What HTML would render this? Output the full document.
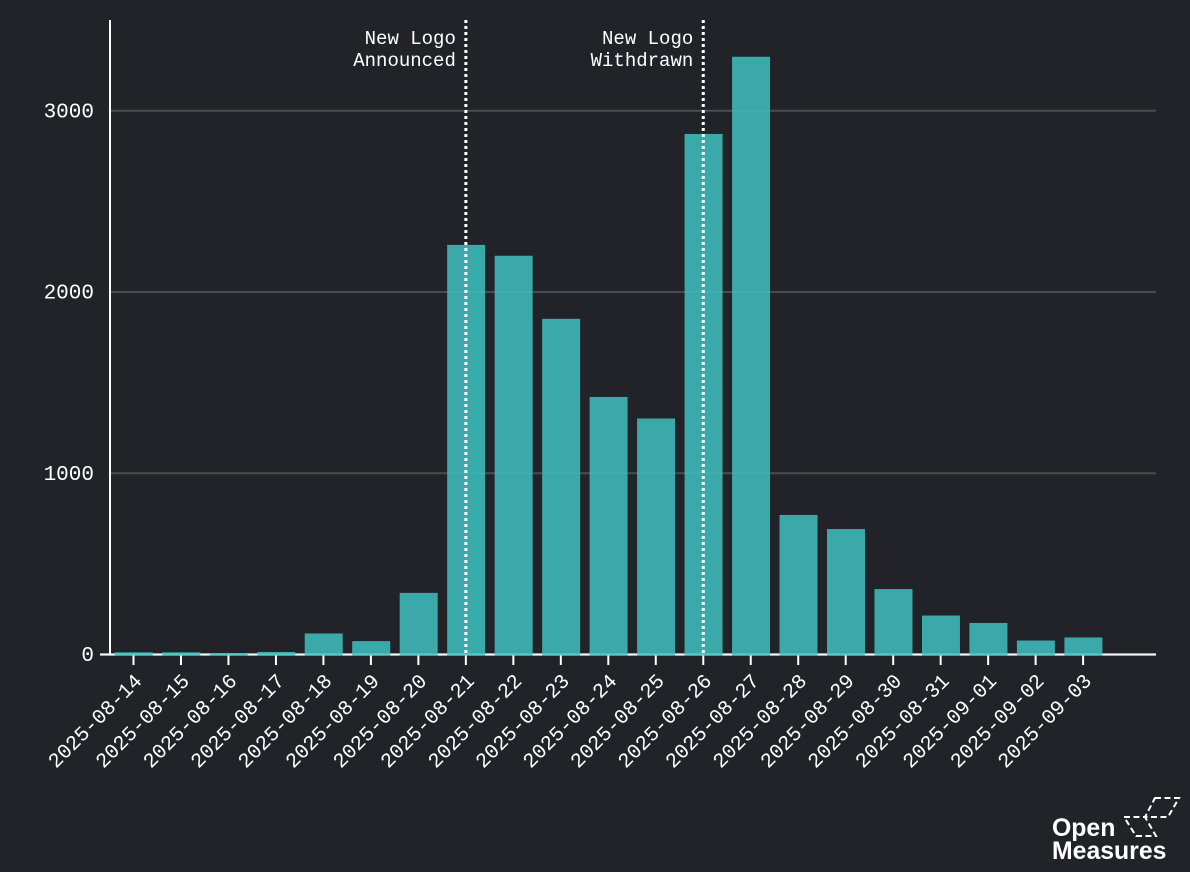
<!DOCTYPE html>
<html lang="en">
<head>
<meta charset="utf-8">
<title>Daily post counts</title>
<style>
html,body{margin:0;padding:0;background:#222329;}
body{width:1190px;height:872px;overflow:hidden;}
svg{display:block;}
text{font-family:"Liberation Mono","DejaVu Sans Mono",monospace;fill:#fff;}
</style>
</head>
<body>
<svg id="chart" width="1190" height="872" viewBox="0 0 1190 872" xmlns="http://www.w3.org/2000/svg">
<rect width="1190" height="872" fill="#222329"/>
<g id="grid"></g>
<g id="axes"></g>
<g id="bars"></g>
<g id="events"></g>
<g id="logo">
  <text x="1052" y="836" style="font-family:'Liberation Sans',sans-serif;font-weight:700;font-size:24.8px">Open</text>
  <text x="1052" y="859" style="font-family:'Liberation Sans',sans-serif;font-weight:700;font-size:24.8px">Measures</text>
  <g fill="none" stroke="#fff" stroke-width="2" stroke-dasharray="6 3.5">
    <path d="M1155 798 L1179 798 L1168 817 L1145 817 Z"/>
    <path d="M1124 817 L1145 817 L1156 836 L1136 836 Z"/>
  </g>
</g>
</svg>
<script>
const categories = ["2025-08-14","2025-08-15","2025-08-16","2025-08-17","2025-08-18","2025-08-19","2025-08-20","2025-08-21","2025-08-22","2025-08-23","2025-08-24","2025-08-25","2025-08-26","2025-08-27","2025-08-28","2025-08-29","2025-08-30","2025-08-31","2025-09-01","2025-09-02","2025-09-03"];
const seriesValues = [12,12,8,14,116,74,340,2260,2200,1852,1421,1302,2872,3298,770,692,361,215,174,77,94];
const yTicks = [0,1000,2000,3000];
const eventDates = ["2025-08-21","2025-08-26"];
const eventLine1 = ["New Logo","New Logo"];
const eventLine2 = ["Announced","Withdrawn"];

const NS = "http://www.w3.org/2000/svg";
const xStart = 133.5, xStep = 47.48, barWidth = 38;
const yZero = 654.5, yPerUnit = 0.18125;
function xScale(i){ return xStart + i * xStep; }
function yScale(v){ return yZero - v * yPerUnit; }
function make(tag, attrs, parent, txt){
  const el = document.createElementNS(NS, tag);
  for (const k in attrs) el.setAttribute(k, attrs[k]);
  if (txt !== undefined) el.textContent = txt;
  parent.appendChild(el);
  return el;
}
const gridG = document.getElementById("grid");
const axesG = document.getElementById("axes");
const barsG = document.getElementById("bars");
const eventsG = document.getElementById("events");

yTicks.forEach(function(t){
  if (t > 0) {
    const g = make("line", {x1:110,x2:1156,y1:yScale(t),y2:yScale(t),stroke:"#4b4c4f","stroke-width":2}, gridG);
    
    
  }
  const lab = make("text", {x:94,y:yScale(t)+6.5,"text-anchor":"end","font-size":"21px"}, axesG, String(t));
  
  
});

const yAxis = make("line", {x1:110,x2:110,y1:20,y2:655.5,stroke:"#fff","stroke-width":2}, axesG);


const xAxis = make("line", {x1:100,x2:1156,y1:yZero,y2:yZero,stroke:"#f4f4f4","stroke-width":2.2}, axesG);



categories.forEach(function(c,i){
  const x = xScale(i);
  const tick = make("line", {x1:x,x2:x,y1:yZero,y2:665,stroke:"#fff","stroke-width":2}, axesG);
  
  
  const lab = make("text", {
    x:x+9.5,y:682,"text-anchor":"end","font-size":"20.5px",
    transform:"rotate(-45 "+(x+9.5)+" 682)"
  }, axesG, c);
  
  

  const v = seriesValues[i];
  const bar = make("rect", {
    x:x-barWidth/2+0.3,y:yScale(v),width:barWidth,height:yZero-yScale(v)+1,
    fill:"#40c0c0","fill-opacity":0.85
  }, barsG);
  
  
});

eventDates.forEach(function(d,i){
  const x = xScale(categories.indexOf(d));
  const ln = make("line", {x1:x,x2:x,y1:20,y2:654,stroke:"#fff","stroke-width":3,"stroke-dasharray":"3 3"}, eventsG);
  
  
  const t1 = make("text", {x:x-10,y:44,"text-anchor":"end","font-size":"19px"}, eventsG, eventLine1[i]);
  
  
  const t2 = make("text", {x:x-10,y:66,"text-anchor":"end","font-size":"19px"}, eventsG, eventLine2[i]);
  
  
});
</script>
</body>
</html>
